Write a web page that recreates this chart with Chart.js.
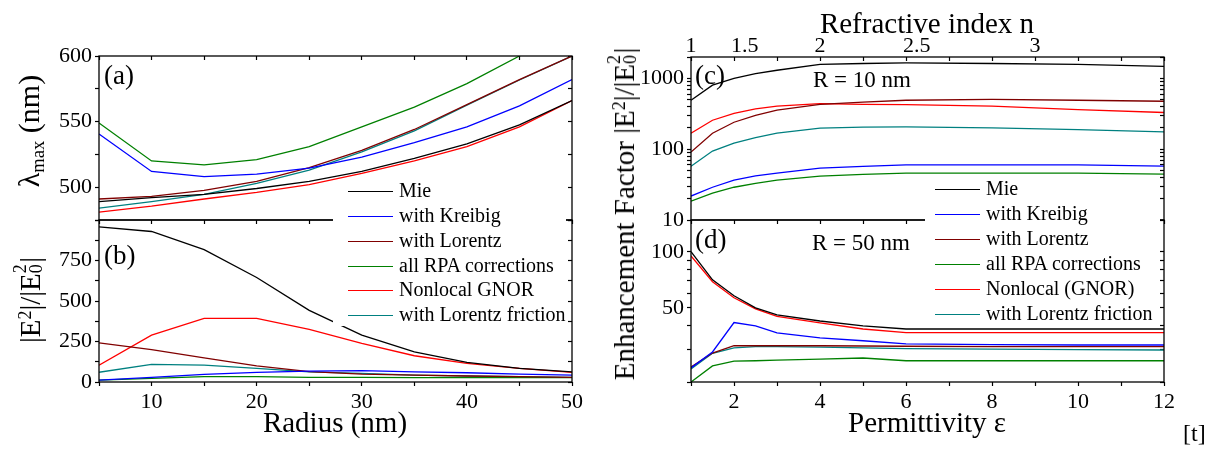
<!DOCTYPE html>
<html>
<head>
<meta charset="utf-8">
<script src="https://cdn.jsdelivr.net/npm/chart.js@4.4.1/dist/chart.umd.min.js"></script>
<style>
body{margin:0;background:#fff;}
#wrap{position:relative;width:1213px;height:452px;overflow:hidden;font-family:"Liberation Serif","Times New Roman",serif;color:#000;}
canvas{position:absolute;left:0;top:0;}
.t{position:absolute;white-space:nowrap;line-height:1;}
.rot{transform:translate(-50%,-50%) rotate(-90deg);}
.leg{position:absolute;background:#fff;}
.sw{position:absolute;width:45px;height:0;}
.lt{position:absolute;font-size:20px;line-height:20px;white-space:nowrap;}
sup{font-size:.62em;vertical-align:.5em;line-height:0;}
sub{font-size:.62em;vertical-align:-.25em;line-height:0;}
.st{display:inline-block;position:relative;width:.36em;height:1em;vertical-align:baseline;}
.st span{position:absolute;left:0;font-size:.62em;line-height:1;}
.st .s2{top:.02em;}
.st .s0{bottom:-.28em;}
</style>
</head>
<body>
<div id="wrap">
  <canvas id="ca" width="1213" height="452"></canvas>
  <canvas id="cb" width="1213" height="452"></canvas>
  <canvas id="cc" width="1213" height="452"></canvas>
  <canvas id="cd" width="1213" height="452"></canvas>

  <div class="t rot" style="left:29px;top:131px;font-size:30px;">&lambda;<sub>max</sub> (nm)</div>
  <div class="t rot" style="left:28px;top:300px;font-size:29px;">|E<sup>2</sup>|/|E<span class="st"><span class="s2">2</span><span class="s0">0</span></span>|</div>
  <div class="t rot" style="left:622px;top:214px;font-size:29px;">Enhancement Factor |E<sup>2</sup>|/|E<span class="st"><span class="s2">2</span><span class="s0">0</span></span>|</div>
  <div class="t" style="left:335px;top:408px;font-size:29px;transform:translateX(-50%);">Radius (nm)</div>
  <div class="t" style="left:927px;top:408px;font-size:29px;transform:translateX(-50%);">Permittivity &epsilon;</div>
  <div class="t" style="left:927px;top:9px;font-size:29px;transform:translateX(-50%);">Refractive index n</div>
  <div class="t" style="left:1183px;top:421px;font-size:24px;">[t]</div>

  <div class="t" style="left:104px;top:62px;font-size:27px;">(a)</div>
  <div class="t" style="left:104px;top:242px;font-size:27px;">(b)</div>
  <div class="t" style="left:695px;top:62px;font-size:27px;">(c)</div>
  <div class="t" style="left:695px;top:226px;font-size:27px;">(d)</div>
  <div class="t" style="left:813px;top:68px;font-size:23px;">R = 10 nm</div>
  <div class="t" style="left:812px;top:231px;font-size:23px;">R = 50 nm</div>

  <div id="legL" class="leg" style="left:333px;top:183px;width:233px;height:143px;"></div>
  <div id="legR" class="leg" style="left:925px;top:179px;width:235px;height:148px;"></div>
</div>
<script>
// panels (a),(b): radius in nm
const radius = [5, 10, 15, 20, 25, 30, 35, 40, 45, 50];
const aMie  = [489, 492, 494.5, 499, 504.5, 512, 522, 533, 547.5, 566];
const aKre  = [540.5, 512, 508, 510, 514.5, 523, 534, 546, 562, 582];
const aLor  = [491, 493, 497.5, 504.5, 515, 528, 544, 563, 582, 600];
const aRpa  = [549, 520, 517, 521, 531, 546, 561, 579, 600, 618];
const aGnor = [481, 485.5, 491, 496, 502, 510.5, 520, 531, 546, 566];
const aFric = [484, 489, 494.5, 503, 513, 527, 543, 562.5, 581.7, 600];

const bMie  = [958, 929, 817, 645, 442, 289, 186, 121, 84, 63];
const bKre  = [12, 29, 47, 60, 67, 70, 63, 57, 49, 43];
const bLor  = [241, 200, 149, 100, 64, 49, 43, 37, 33, 29];
const bRpa  = [12, 22, 33, 33, 29, 29, 27, 27, 27, 27];
const bGnor = [104, 289, 393, 393, 325, 239, 162, 115, 84, 60];
const bFric = [60, 109, 104, 84, 63, 53, 43, 37, 33, 29];

// panels (c),(d): permittivity
const eps = [1, 1.5, 2, 2.5, 3, 4, 5, 6, 8, 10, 12];
const cMie  = [490, 800, 1000, 1165, 1300, 1575, 1620, 1650, 1620, 1575, 1475];
const cKre  = [21.8, 29, 36.6, 42, 46, 54, 57, 60, 60, 60, 57.5];
const cLor  = [91, 168, 240, 300, 355, 430, 460, 490, 505, 490, 475];
const cRpa  = [18.5, 24, 29, 33, 36.6, 41.5, 44, 46, 46, 46, 44.5];
const cGnor = [168, 256, 321, 370, 404, 440, 430, 426, 404, 362, 329];
const cFric = [57.5, 94, 122, 145, 168, 198, 205, 206, 200, 189, 175];

const dMie  = [100, 70.7, 58, 50, 45.8, 42.5, 40, 38.5, 38.5, 38.5, 38.5];
const dKre  = [23.8, 29, 41.7, 40, 36.7, 34.5, 33.3, 32, 31.7, 31.6, 31.6];
const dLor  = [24.1, 28.6, 31.3, 31.3, 31.3, 31.3, 31.2, 31.1, 31, 31, 31];
const dRpa  = [20, 24.4, 25.9, 26, 26.2, 26.5, 26.9, 26, 26, 26, 26];
const dGnor = [95, 69, 56.6, 49.4, 45, 41.5, 38.5, 36.8, 36.8, 36.8, 36.8];
const dFric = [23.5, 28.5, 30.5, 31, 31, 30.8, 30.5, 30.2, 30, 29.8, 29.7];

// tick labels
const aTicks = [500, 550, 600];
const bTicks = [0, 250, 500, 750];
const rTicks = [10, 20, 30, 40, 50];
const eTicks = [2, 4, 6, 8, 10, 12];
const nTicks = [1, 1.5, 2, 2.5, 3];
const cTicks = [10, 100, 1000];
const cMinor = [20, 30, 40, 50, 60, 70, 80, 90, 200, 300, 400, 500, 600, 700, 800, 900, 2000];
const dTicks = [50, 100];
const dMinor = [20, 30, 40, 60, 70, 80, 90];

const namesL = ['Mie', 'with Kreibig', 'with Lorentz', 'all RPA corrections', 'Nonlocal GNOR', 'with Lorentz friction'];
const namesR = ['Mie', 'with Kreibig', 'with Lorentz', 'all RPA corrections', 'Nonlocal (GNOR)', 'with Lorentz friction'];
const colors = ['#000000', '#0000ff', '#800000', '#008000', '#ff0000', '#008080'];

const W = 1213, H = 452;
const FONT = '"Liberation Serif","Times New Roman",serif';

// every axis gets a fixed size so that the plot areas land where they should
function ax(extra, size){
  const base = {
    fitSize: size,
    afterFit: s => { if (s.isHorizontal()) s.height = size; else s.width = size; },
    grid: {drawOnChartArea: false, drawTicks: true, tickLength: 4, color: '#000', tickColor: '#000', tickWidth: 1.2},
    border: {display: false},
    ticks: {font: {family: FONT, size: 22}, color: '#000', padding: 3, autoSkip: false, maxRotation: 0, minRotation: 0}
  };
  for (const k in extra) {
    if (k === 'ticks' || k === 'grid') Object.assign(base[k], extra[k]);
    else base[k] = extra[k];
  }
  return base;
}
// mirrored axis (top / right) with inward ticks and no labels
function mirror(extra){
  const a = ax(extra, 0);
  a.grid.tickLength = -4;
  a.ticks.display = false;
  return a;
}

const frame = {
  id: 'frame',
  afterDraw(c){
    const a = c.chartArea, g = c.ctx;
    g.save();
    g.strokeStyle = '#000';
    g.lineWidth = 1.3;
    g.strokeRect(a.left, a.top, a.right - a.left, a.bottom - a.top);
    g.restore();
  }
};

function makeChart(id, area, xs, series, scales){
  const used = {left: 0, right: 0, top: 0, bottom: 0};
  for (const k in scales) {
    const s = scales[k];
    const pos = s.position || (k.startsWith('x') ? 'bottom' : 'left');
    used[pos] += s.fitSize || 0;
  }
  return new Chart(document.getElementById(id), {
    type: 'line',
    data: {
      datasets: series.map((ys, i) => ({
        data: xs.map((x, j) => ({x: x, y: ys[j]})),
        borderColor: colors[i], borderWidth: 1.3,
        pointRadius: 0, tension: 0, fill: false
      }))
    },
    options: {
      responsive: false, animation: false, devicePixelRatio: 1,
      layout: {padding: {
        left: area[0] - used.left, top: area[1] - used.top,
        right: W - area[2] - used.right, bottom: H - area[3] - used.bottom
      }},
      plugins: {legend: {display: false}, tooltip: {enabled: false}},
      scales: scales
    },
    plugins: [frame]
  });
}

const setTicks = vals => s => { s.ticks = vals.map(v => ({value: v})); };

// (a)
makeChart('ca', [99, 56, 572, 220], radius, [aMie, aKre, aLor, aRpa, aGnor, aFric], {
  x: ax({type: 'linear', min: 5, max: 50, ticks: {stepSize: 5, display: false}}, 0),
  xt: mirror({type: 'linear', position: 'top', min: 5, max: 50, ticks: {stepSize: 5}}),
  y: ax({type: 'linear', min: 475, max: 600, ticks: {stepSize: 25, callback: v => aTicks.includes(v) ? v : ''}}, 70),
  yr: mirror({type: 'linear', position: 'right', min: 475, max: 600, ticks: {stepSize: 25}})
});

// (b)
makeChart('cb', [99, 220, 572, 382], radius, [bMie, bKre, bLor, bRpa, bGnor, bFric], {
  x: ax({type: 'linear', min: 5, max: 50, ticks: {stepSize: 5, callback: v => rTicks.includes(v) ? v : ''}}, 40),
  y: ax({type: 'linear', min: 0, max: 1000, ticks: {stepSize: 125, callback: v => bTicks.includes(v) ? v : ''}}, 70),
  yr: mirror({type: 'linear', position: 'right', min: 0, max: 1000, ticks: {stepSize: 125}})
});

// (c)
const topVals = [1, 2, 2.25, 3, 4, 5, 6, 6.25, 7, 8, 9, 10, 11, 12];
makeChart('cc', [691, 57, 1164, 220], eps, [cMie, cKre, cLor, cRpa, cGnor, cFric], {
  x: ax({type: 'linear', min: 1, max: 12, ticks: {stepSize: 1, display: false}}, 0),
  x2: ax({type: 'linear', position: 'top', min: 1, max: 12,
    afterBuildTicks: setTicks(topVals),
    grid: {tickLength: -4, tickColor: c => Number.isInteger(c.tick && c.tick.value) ? '#000' : 'rgba(0,0,0,0)'},
    ticks: {padding: 2, callback: v => { const n = nTicks.find(n => Math.abs(n * n - v) < 1e-9); return n === undefined ? '' : String(n); }}
  }, 35),
  y: ax({type: 'logarithmic', min: 10, max: 2000,
    afterBuildTicks: setTicks(cTicks.concat(cMinor).sort((p, q) => p - q)),
    ticks: {callback: v => cTicks.includes(v) ? String(v) : ''}}, 80),
  yr: mirror({type: 'logarithmic', position: 'right', min: 10, max: 2000,
    afterBuildTicks: setTicks(cTicks.concat(cMinor).sort((p, q) => p - q))})
});

// (d)
makeChart('cd', [691, 220, 1164, 382], eps, [dMie, dKre, dLor, dRpa, dGnor, dFric], {
  x: ax({type: 'linear', min: 1, max: 12, ticks: {stepSize: 1, callback: v => eTicks.includes(v) ? v : ''}}, 40),
  y: ax({type: 'logarithmic', min: 20, max: 148,
    afterBuildTicks: setTicks(dMinor.concat(dTicks).sort((p, q) => p - q)),
    ticks: {callback: v => dTicks.includes(v) ? String(v) : ''}}, 80),
  yr: mirror({type: 'logarithmic', position: 'right', min: 20, max: 148,
    afterBuildTicks: setTicks(dMinor.concat(dTicks).sort((p, q) => p - q))})
});

// legends
function legend(id, names, sw, tx, y0, dy){
  const box = document.getElementById(id);
  names.forEach((nm, i) => {
    const y = y0 + i * dy;
    const s = document.createElement('div');
    s.className = 'sw';
    s.style.left = sw + 'px';
    s.style.top = (y - 0.75) + 'px';
    s.style.borderTop = '1.5px solid ' + colors[i];
    box.appendChild(s);
    const t = document.createElement('div');
    t.className = 'lt';
    t.style.left = tx + 'px';
    t.style.top = (y - 11.75) + 'px';
    t.textContent = nm;
    box.appendChild(t);
  });
}
legend('legL', namesL, 15, 66, 9, 24.8);
legend('legR', namesR, 10, 61, 11, 25);
</script>
</body>
</html>
